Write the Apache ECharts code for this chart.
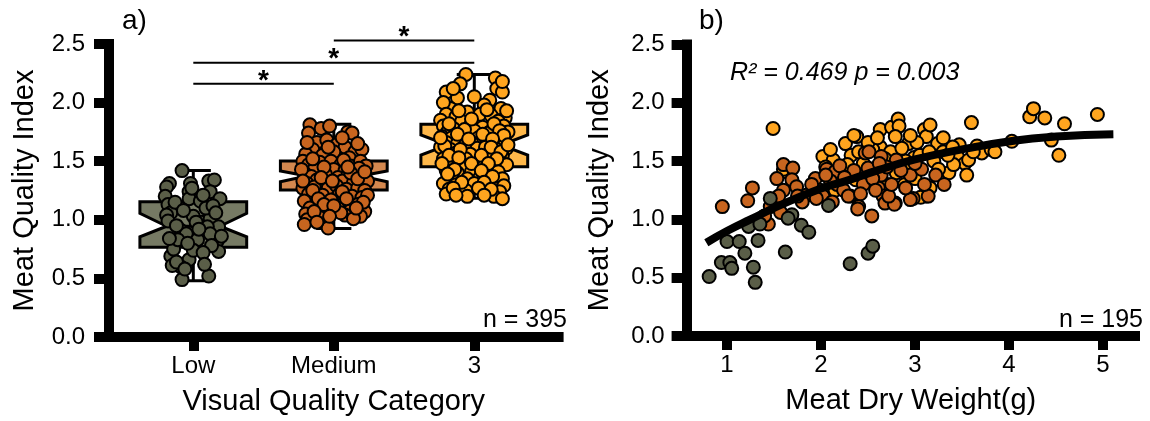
<!DOCTYPE html>
<html>
<head>
<meta charset="utf-8">
<script src="https://cdn.jsdelivr.net/npm/echarts@6.0.0/dist/echarts.min.js"></script>
<style>
html,body{margin:0;padding:0;background:#fff;}
#chart{width:1150px;height:421px;}
</style>
</head>
<body>
<div id="chart"></div>
<script>
// ---------------- data ----------------
const categories = ['Low', 'Medium', '3'];
const xTicksLeft = [1, 2, 3];
const xTicksRight = [1, 2, 3, 4, 5];

// [whiskerLow, Q1, notchLow, median, notchHigh, Q3, whiskerHigh]
const boxLow = [0.48, 0.765, 0.855, 0.945, 1.055, 1.155, 1.42];
const boxMedium = [0.925, 1.254, 1.325, 1.374, 1.416, 1.502, 1.815];
const boxHigh = [1.183, 1.453, 1.553, 1.638, 1.724, 1.815, 2.24];

// jittered points: [offset from category, value]
const lowPts = [
  [-0.08,1.42],[-0.17,1.31],[-0.19,1.28],[-0.02,1.31],[-0.03,1.24],[-0.03,1.18],[0.11,1.33],[0.15,1.34],
  [0.12,1.24],[0.19,1.18],[-0.20,1.20],[-0.18,1.13],[-0.16,1.06],[0.05,1.16],[0.00,1.03],[0.06,0.98],
  [0.12,1.01],[0.18,0.94],[-0.09,0.91],[-0.05,0.88],[0.10,0.94],[0.03,0.83],[0.17,0.82],[0.18,0.73],
  [-0.16,0.69],[-0.03,0.66],[-0.09,0.60],[-0.15,0.61],[-0.08,0.49],[0.11,0.52],[0.00,0.74],[0.12,0.88],
  [-0.19,1.04],[-0.18,0.99],[-0.14,0.75],[-0.12,0.64],[-0.06,0.58],[0.02,0.98],[0.09,1.10],[-0.01,1.27],
  [0.04,0.92],[0.13,0.78],[-0.11,0.83],[0.07,1.21],
  [-0.13,1.15],[0.14,1.12],[-0.07,1.08],[0.16,1.06],[-0.12,0.95],[0.20,0.86],[-0.17,0.84],[0.07,0.72],
  [-0.04,0.80],[0.08,0.62]
];
const medPts = [
  [-0.17,1.81],[-0.18,1.74],[-0.09,1.78],[-0.03,1.80],[0.10,1.75],[0.13,1.74],
  [-0.12,1.66],[-0.05,1.68],[0.02,1.64],[0.08,1.62],[-0.15,1.60],[0.15,1.58],[0.20,1.60],[-0.20,1.56],[0.00,1.58],[-0.08,1.55],[0.11,1.53],
  [-0.22,1.50],[-0.18,1.47],[-0.10,1.49],[-0.02,1.50],[0.05,1.47],[0.12,1.46],[0.19,1.50],[0.23,1.46],[-0.14,1.43],[0.00,1.43],[0.08,1.42],[0.16,1.41],
  [-0.21,1.40],[-0.16,1.37],[-0.06,1.39],[0.03,1.36],[0.10,1.38],[0.20,1.37],[-0.12,1.34],[0.06,1.33],[0.14,1.32],[0.24,1.33],[-0.19,1.31],
  [-0.22,1.27],[-0.14,1.28],[-0.04,1.27],[0.02,1.29],[0.09,1.26],[0.17,1.27],[0.22,1.25],[-0.18,1.22],[-0.08,1.21],[0.04,1.22],[0.13,1.20],[0.20,1.19],
  [-0.21,1.16],[-0.12,1.15],[-0.02,1.17],[0.07,1.14],[0.17,1.13],[-0.17,1.10],[-0.05,1.09],[0.03,1.10],[0.12,1.08],[0.22,1.07],[-0.20,1.05],[0.08,1.04],[0.19,1.03],
  [-0.19,1.00],[-0.21,0.96],[-0.04,0.93],[0.14,1.01],[-0.10,1.02],
  [-0.15,1.52],[0.07,1.51],[-0.07,1.45],[0.18,1.44],[-0.23,1.43],[0.12,1.40],[-0.09,1.36],[0.17,1.35],[-0.01,1.33],
  [-0.15,1.25],[0.06,1.24],[-0.11,1.18],[0.09,1.18],[0.24,1.21],[-0.07,1.13],[0.21,1.15],[-0.14,1.07],[0.05,1.06],
  [-0.22,1.33],[0.22,1.41],[0.00,1.12],[-0.03,1.03],[0.16,1.10],[-0.12,0.98],[0.10,1.45],[-0.04,1.62],[0.17,1.65],
  [-0.19,1.66],[0.06,1.70]
];
const highPts = [
  [-0.06,2.24],[-0.10,2.16],[0.15,2.21],[0.16,2.12],[-0.20,2.09],[0.20,2.09],[-0.12,2.04],[0.11,2.02],[0.19,1.95],[-0.17,1.95],[-0.22,2.00],[0.07,1.98],
  [-0.20,1.90],[-0.13,1.88],[-0.05,1.92],[0.04,1.90],[0.12,1.89],[0.22,1.87],[-0.24,1.85],[0.17,1.84],[-0.09,1.84],
  [-0.22,1.80],[-0.15,1.78],[-0.03,1.80],[0.06,1.79],[0.13,1.77],[0.21,1.80],[-0.19,1.75],[0.00,1.76],[0.10,1.74],[0.24,1.75],
  [-0.23,1.71],[-0.16,1.70],[-0.08,1.72],[0.03,1.70],[0.09,1.68],[0.18,1.70],[-0.20,1.66],[-0.12,1.65],[-0.02,1.66],[0.14,1.65],[0.22,1.66],
  [-0.24,1.62],[-0.17,1.60],[-0.07,1.63],[0.02,1.61],[0.08,1.62],[0.16,1.60],[0.23,1.61],[-0.13,1.57],[-0.03,1.56],[0.11,1.56],[0.20,1.55],
  [-0.22,1.52],[-0.15,1.50],[-0.06,1.52],[0.04,1.50],[0.12,1.52],[0.19,1.49],[-0.19,1.46],[-0.09,1.45],[0.07,1.46],[0.15,1.45],[0.23,1.47],
  [-0.20,1.42],[-0.12,1.40],[-0.02,1.41],[0.09,1.39],[0.17,1.41],[-0.16,1.36],[-0.05,1.35],[0.04,1.36],[0.20,1.35],
  [-0.22,1.31],[-0.13,1.30],[0.00,1.31],[0.12,1.30],[0.21,1.29],[-0.18,1.26],[-0.06,1.25],[0.08,1.25],[0.18,1.24],[-0.20,1.22],[-0.05,1.20],[0.14,1.20],[0.20,1.18],
  [-0.11,1.93],[0.09,1.94],[0.23,1.93],[-0.02,1.86],[0.14,1.82],[-0.18,1.82],[-0.07,1.77],[0.18,1.76],[-0.12,1.73],[0.06,1.73],
  [0.21,1.72],[-0.04,1.69],[0.13,1.69],[-0.21,1.63],[-0.10,1.60],[0.12,1.62],[0.19,1.58],[-0.18,1.55],[0.05,1.55],[-0.11,1.53],
  [0.16,1.52],[-0.02,1.48],[0.10,1.48],[-0.23,1.48],[-0.14,1.43],[0.05,1.42],[0.13,1.37],[-0.19,1.39],[-0.09,1.32],[0.07,1.32],
  [-0.15,1.27],[0.03,1.27],[0.12,1.26],[-0.13,1.21],[0.07,1.21],[-0.24,1.70],[0.24,1.64],[0.00,2.05],[-0.15,2.12],[0.20,2.18]
];

// significance brackets: [from category, to category, height]
const sigBrackets = [[1, 2, 2.16], [1, 3, 2.34], [2, 3, 2.53]];

// right panel: [dry weight, quality index]
const rightLow = [
  [0.81,0.51],[0.94,0.63],[1.03,0.63],[1.05,0.58],[1.00,0.81],[1.13,0.81],[1.19,0.71],[1.23,0.94],
  [1.28,0.59],[1.30,0.46],[1.33,0.82],[1.35,0.96],[1.46,1.18],[1.62,0.72],[1.69,1.04],[1.79,0.95],
  [1.87,0.89],[2.08,1.12],[2.31,0.62],[2.50,0.71],[2.55,0.77],[1.65,1.01]
];
const rightMed = [
  [0.95,1.11],[1.22,1.16],[1.27,1.27],[1.60,1.47],[1.70,1.44],[1.53,1.35],[1.60,1.25],[1.69,1.34],
  [1.74,1.28],[1.44,0.96],[1.46,1.11],[1.40,1.03],[1.55,1.20],[1.94,1.35],[1.99,1.25],[2.06,1.43],
  [2.15,1.41],[2.17,1.30],[2.24,1.25],[2.31,1.20],[2.42,1.38],[2.47,1.57],[2.54,1.03],[2.40,1.11],
  [2.61,1.27],[2.66,1.20],[2.79,1.14],[2.95,1.38],[2.98,1.18],[2.29,1.20],[2.39,1.09],[2.68,1.14],
  [2.78,1.13],[2.95,1.17],[3.07,1.43],[3.14,1.20],[3.22,1.38],[3.31,1.30],[2.64,1.38],[2.51,1.58],
  [2.64,1.54],[2.80,1.51],[2.10,1.33],[2.20,1.46],[2.35,1.42],[2.45,1.30],[2.55,1.35],[2.70,1.45],
  [2.85,1.42],[1.85,1.21],[1.90,1.30],[2.02,1.20],[2.12,1.15],[2.72,1.20],[2.58,1.25],[3.00,1.48],
  [1.80,1.15],[1.57,1.06],
  [2.25,1.36],[2.50,1.44],[2.75,1.30],[2.90,1.27],[3.10,1.30],[2.05,1.38],[1.95,1.18],[2.42,1.22],
  [2.62,1.48],[1.75,1.20]
];
const rightHigh = [
  [1.49,1.78],[1.62,1.41],[1.60,1.43],[2.02,1.54],[2.13,1.51],[2.26,1.65],[2.38,1.71],[2.32,1.55],
  [2.37,1.34],[2.63,1.77],[2.63,1.62],[2.75,1.79],[2.82,1.86],[2.83,1.80],[2.79,1.71],[2.74,1.58],
  [2.80,1.40],[2.89,1.30],[2.93,1.65],[2.99,1.53],[3.10,1.77],[3.12,1.71],[3.16,1.81],[3.24,1.65],
  [3.30,1.58],[3.36,1.40],[3.45,1.54],[3.47,1.64],[3.53,1.48],[3.57,1.51],[3.55,1.38],[3.60,1.83],
  [3.66,1.63],[3.71,1.57],[3.81,1.60],[4.03,1.67],[4.22,1.88],[4.26,1.95],[4.38,1.87],[4.45,1.68],
  [4.53,1.55],[4.59,1.82],[4.94,1.90],[3.12,1.20],[3.06,1.19],[3.16,1.27],[3.41,1.47],[2.05,1.45],
  [2.20,1.38],[2.45,1.48],[2.55,1.60],[2.90,1.50],[3.05,1.55],[3.20,1.50],[2.10,1.60],[2.35,1.72],
  [2.90,1.45],[3.35,1.55],[2.70,1.30],[3.00,1.35],[2.15,1.25],
  [2.50,1.66],[2.68,1.52],[2.86,1.61],[3.02,1.66],[3.25,1.43],[3.40,1.62],[3.15,1.58],[2.40,1.58],
  [2.95,1.72],[3.30,1.70],[3.62,1.58],[3.85,1.58],[2.28,1.47],[2.60,1.70]
];
// fitted curve
const fitCurve = [
  [0.78,0.80],[1.00,0.90],[1.25,1.00],[1.56,1.12],[2.00,1.265],[2.27,1.33],[2.60,1.42],
  [3.00,1.515],[3.50,1.60],[4.05,1.675],[4.50,1.71],[5.11,1.73]
];

// ---------------- styling ----------------
const boxFill = ['#767a64', '#d4884f', '#ffb84a'];
const ptFill = ['#5a5e48', '#c8651f', '#ffa51f'];
const FONT = '"Liberation Sans", Arial, sans-serif';

const chart = echarts.init(document.getElementById('chart'), null, {renderer: 'canvas'});

function axisX(gridIndex, min, max, ticks, fmt, name) {
  return {
    type: 'value', gridIndex, min, max,
    splitLine: {show: false},
    axisLine: {onZero: false, lineStyle: {color: '#000', width: 10, cap: 'square'}},
    axisTick: {customValues: ticks, length: 14, lineStyle: {color: '#000', width: 10}},
    axisLabel: {customValues: ticks, formatter: fmt, fontSize: 24, color: '#000', margin: 17, fontFamily: FONT},
    name, nameLocation: 'middle', nameGap: 50,
    nameTextStyle: {fontSize: 29, color: '#000', fontFamily: FONT}
  };
}
function axisY(gridIndex, margin, nameGap) {
  return {
    type: 'value', gridIndex, min: 0, max: 2.5, interval: 0.5,
    splitLine: {show: false},
    axisLine: {onZero: false, lineStyle: {color: '#000', width: 10, cap: 'square'}},
    axisTick: {length: 15, lineStyle: {color: '#000', width: 10}},
    axisLabel: {formatter: v => v.toFixed(1), fontSize: 24, color: '#000', margin, fontFamily: FONT},
    name: 'Meat Quality Index', nameLocation: 'middle', nameGap,
    nameTextStyle: {fontSize: 29, color: '#000', fontFamily: FONT}
  };
}

function renderBox(params, api) {
  const pos = api.value(0);
  const wl = api.value(1), q1 = api.value(2), nl = api.value(3), med = api.value(4),
        nh = api.value(5), q3 = api.value(6), wh = api.value(7);
  const hw = 0.38, cap = 0.125;
  const P = (dx, y) => api.coord([pos + dx, y]);
  const ls = {stroke: '#000', lineWidth: 3};
  const line = (a, b) => ({type: 'line', shape: {x1: a[0], y1: a[1], x2: b[0], y2: b[1]}, style: ls});
  const poly = [P(-hw, q3), P(hw, q3), P(hw, nh), P(hw / 2, med), P(hw, nl), P(hw, q1),
                P(-hw, q1), P(-hw, nl), P(-hw / 2, med), P(-hw, nh)];
  return {
    type: 'group',
    children: [
      line(P(0, q3), P(0, wh)),
      line(P(-cap, wh), P(cap, wh)),
      line(P(0, q1), P(0, wl)),
      line(P(-cap, wl), P(cap, wl)),
      {type: 'polygon', shape: {points: poly},
       style: {fill: boxFill[params.dataIndex], stroke: '#000', lineWidth: 3, lineJoin: 'miter'}},
      line(P(-hw / 2, med), P(hw / 2, med))
    ]
  };
}

function renderBracket(params, api) {
  const a = api.coord([api.value(0), api.value(2)]);
  const b = api.coord([api.value(1), api.value(2)]);
  return {
    type: 'group',
    children: [
      {type: 'line', shape: {x1: a[0], y1: a[1], x2: b[0], y2: b[1]}, style: {stroke: '#000', lineWidth: 2}},
      {type: 'text', x: (a[0] + b[0]) / 2, y: a[1] - 3,
       style: {text: '*', fill: '#000', font: 'bold 28px ' + FONT, align: 'center', verticalAlign: 'middle'}}
    ]
  };
}

const boxes = [boxLow, boxMedium, boxHigh].map((s, i) => [i + 1, ...s]);
const jitter = (pts, pos) => pts.map(p => [pos + p[0], p[1]]);
const ptStyle = c => ({color: c, borderColor: '#000', borderWidth: 2, opacity: 1});
const SYM = 13;

const option = {
  animation: false,
  backgroundColor: '#fff',
  textStyle: {fontFamily: FONT},
  grid: [
    {left: 109, top: 44, width: 449.6, height: 293},
    {left: 686.6, top: 44.5, width: 448.4, height: 291.5}
  ],
  xAxis: [
    axisX(0, 0.4, 3.6, xTicksLeft, v => categories[Math.round(v) - 1], 'Visual Quality Category'),
    axisX(1, 0.57, 5.34, xTicksRight, v => String(v), 'Meat Dry Weight(g)')
  ],
  yAxis: [axisY(0, 24, 70), axisY(1, 22, 72)],
  series: [
    {type: 'custom', xAxisIndex: 0, yAxisIndex: 0, renderItem: renderBox, data: boxes, z: 2,
     encode: {x: 0, y: [1, 2, 3, 4, 5, 6, 7]}},
    {type: 'scatter', xAxisIndex: 0, yAxisIndex: 0, data: jitter(lowPts, 1), symbolSize: SYM, itemStyle: ptStyle(ptFill[0]), z: 3},
    {type: 'scatter', xAxisIndex: 0, yAxisIndex: 0, data: jitter(medPts, 2), symbolSize: SYM, itemStyle: ptStyle(ptFill[1]), z: 3},
    {type: 'scatter', xAxisIndex: 0, yAxisIndex: 0, data: jitter(highPts, 3), symbolSize: SYM, itemStyle: ptStyle(ptFill[2]), z: 3},
    {type: 'custom', xAxisIndex: 0, yAxisIndex: 0, renderItem: renderBracket, data: sigBrackets, clip: false, z: 4,
     encode: {x: [0, 1], y: 2}},
    {type: 'scatter', xAxisIndex: 1, yAxisIndex: 1, data: rightHigh, symbolSize: SYM, itemStyle: ptStyle(ptFill[2]), z: 3},
    {type: 'scatter', xAxisIndex: 1, yAxisIndex: 1, data: rightMed, symbolSize: SYM, itemStyle: ptStyle(ptFill[1]), z: 3},
    {type: 'scatter', xAxisIndex: 1, yAxisIndex: 1, data: rightLow, symbolSize: SYM, itemStyle: ptStyle(ptFill[0]), z: 3},
    {type: 'line', xAxisIndex: 1, yAxisIndex: 1, data: fitCurve, smooth: true, showSymbol: false, symbol: 'none',
     lineStyle: {color: '#000', width: 8}, z: 5}
  ],
  graphic: [
    {type: 'text', x: 122, y: 21, style: {text: 'a)', font: '28px ' + FONT, fill: '#000', align: 'left', verticalAlign: 'middle'}},
    {type: 'text', x: 699, y: 21, style: {text: 'b)', font: '28px ' + FONT, fill: '#000', align: 'left', verticalAlign: 'middle'}},
    {type: 'text', x: 567, y: 320, style: {text: 'n = 395', font: '25px ' + FONT, fill: '#000', align: 'right', verticalAlign: 'middle'}},
    {type: 'text', x: 1143, y: 320, style: {text: 'n = 195', font: '25px ' + FONT, fill: '#000', align: 'right', verticalAlign: 'middle'}},
    {type: 'text', x: 730, y: 73, style: {text: 'R² = 0.469 p = 0.003', font: 'italic 25px ' + FONT, fill: '#000', align: 'left', verticalAlign: 'middle'}}
  ]
};
chart.setOption(option);
</script>
</body>
</html>
